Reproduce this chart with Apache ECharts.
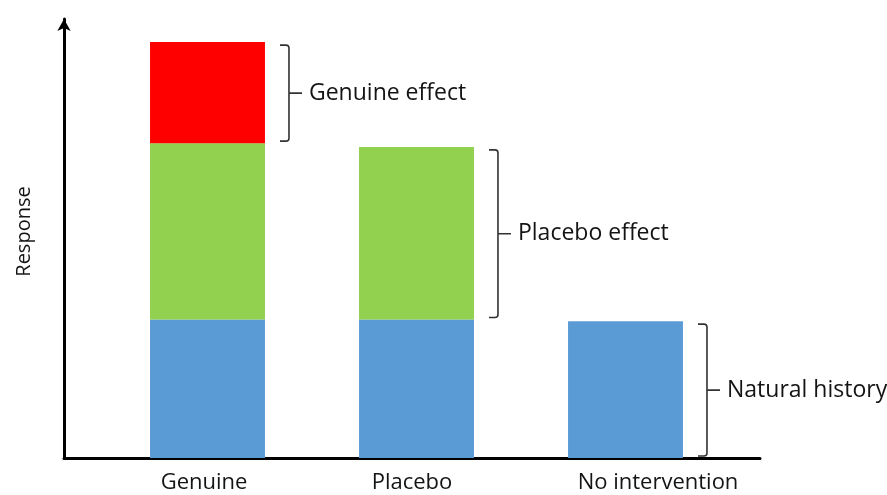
<!DOCTYPE html>
<html>
<head>
<meta charset="utf-8">
<script src="https://cdn.jsdelivr.net/npm/echarts@6/dist/echarts.min.js"></script>
<style>
  html, body { margin: 0; padding: 0; background: #fff; }
  #chart { width: 887px; height: 495px; }
</style>
</head>
<body>
<div id="chart"></div>
<script>
// ---- data ----
const categories = ['Genuine', 'Placebo', 'No intervention'];
const naturalHistory = [33.3, 33.3, 32.9];
const placeboEffect = [42.4, 41.5, null];
const genuineEffect = [24.3, null, null];
const effectLabels = ['Genuine effect', 'Placebo effect', 'Natural history'];
const yMax = 107;

// bracket spans derived from the series values: [categoryIndex, low, high]
const brackets = [
  [0, naturalHistory[0] + placeboEffect[0], naturalHistory[0] + placeboEffect[0] + genuineEffect[0]],
  [1, naturalHistory[1], naturalHistory[1] + placeboEffect[1]],
  [2, 0, naturalHistory[2]]
];

const FONT = "'Open Sans', 'Noto Sans', sans-serif";
const TXT = '#141414';

const chart = echarts.init(document.getElementById('chart'), null, { renderer: 'canvas' });

const labelRich = {
  c0: { fontSize: 22, fontFamily: FONT, color: TXT, padding: [0, 7, 0, 0] },
  c1: { fontSize: 22, fontFamily: FONT, color: TXT, padding: [0, 9, 0, 0] },
  c2: { fontSize: 22, fontFamily: FONT, color: TXT, padding: [0, 0, 0, 65] }
};

const option = {
  backgroundColor: '#fff',
  animation: false,
  grid: [
    { left: 64, right: 127, top: 19, bottom: 37 },
    { left: 103, right: 157, top: 13, bottom: 37 }
  ],
  xAxis: [
    {
      type: 'value', gridIndex: 0, min: 0, max: 1,
      axisLine: { show: true, lineStyle: { color: '#000', width: 3 } },
      axisTick: { show: false }, axisLabel: { show: false }, splitLine: { show: false }
    },
    {
      type: 'category', gridIndex: 1, data: categories,
      axisLine: { show: false }, axisTick: { show: false }, splitLine: { show: false },
      axisLabel: {
        interval: 0, margin: 14, fontSize: 22, fontFamily: FONT, color: TXT,
        formatter: (v, i) => '{c' + i + '|' + v + '}',
        rich: labelRich
      }
    }
  ],
  yAxis: [
    {
      type: 'value', gridIndex: 0, min: 0, max: 1,
      axisLine: { show: true, symbol: ['none', 'arrow'], symbolSize: [10, 12], lineStyle: { color: '#000', width: 3 } },
      axisTick: { show: false }, axisLabel: { show: false }, splitLine: { show: false },
      name: 'Response', nameLocation: 'middle', nameGap: 30, nameRotate: 90,
      nameTextStyle: { fontSize: 20, fontFamily: FONT, color: TXT, padding: [0, 0, 0, 14] }
    },
    {
      type: 'value', gridIndex: 1, min: 0, max: yMax,
      axisLine: { show: false }, axisTick: { show: false }, axisLabel: { show: false }, splitLine: { show: false }
    }
  ],
  series: [
    {
      name: 'Natural history', type: 'bar', stack: 'total', xAxisIndex: 1, yAxisIndex: 1,
      barWidth: '55%', data: naturalHistory, silent: true,
      itemStyle: { color: '#5B9BD5' }
    },
    {
      name: 'Placebo effect', type: 'bar', stack: 'total', xAxisIndex: 1, yAxisIndex: 1,
      barWidth: '55%', data: placeboEffect, silent: true,
      itemStyle: { color: '#92D050' }
    },
    {
      name: 'Genuine effect', type: 'bar', stack: 'total', xAxisIndex: 1, yAxisIndex: 1,
      barWidth: '55%', data: genuineEffect, silent: true,
      itemStyle: { color: '#FF0000' }
    },
    {
      name: 'brackets', type: 'custom', xAxisIndex: 1, yAxisIndex: 1,
      data: brackets, silent: true, clip: false,
      renderItem: function (params, api) {
        const idx = api.value(0), lo = api.value(1), hi = api.value(2);
        const pTop = api.coord([idx, hi]);
        const pBot = api.coord([idx, lo]);
        const bw = api.size([1, 0])[0] * 0.55;
        const x = pTop[0] + bw / 2 + 24;
        const t = pTop[1] + 3;
        const b = pBot[1] - 2;
        const m = (t + b) / 2;
        const path =
          'M' + (x - 9) + ' ' + t + ' L' + (x - 3) + ' ' + t +
          ' Q' + x + ' ' + t + ' ' + x + ' ' + (t + 3) +
          ' L' + x + ' ' + (b - 3) +
          ' Q' + x + ' ' + b + ' ' + (x - 3) + ' ' + b +
          ' L' + (x - 9) + ' ' + b +
          ' M' + x + ' ' + m + ' L' + (x + 13) + ' ' + m;
        return {
          type: 'group',
          children: [
            {
              type: 'path',
              shape: { pathData: path },
              style: { fill: null, stroke: '#333', lineWidth: 1.6 }
            },
            {
              type: 'text',
              style: {
                text: effectLabels[params.dataIndex],
                x: x + 20, y: m,
                verticalAlign: 'middle', align: 'left',
                fontSize: 23, fontFamily: FONT, fill: TXT
              }
            }
          ]
        };
      }
    }
  ]
};

chart.setOption(option);
</script>
</body>
</html>
